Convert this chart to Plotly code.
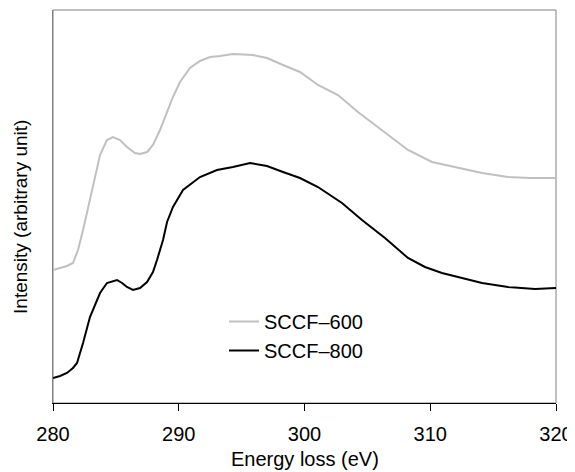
import plotly.graph_objects as go

# SCCF-600 (grey)
e_600 = [280.00, 280.56, 281.11, 281.59, 281.99, 282.39, 282.94, 283.50, 283.74, 284.29,
         284.77, 285.33, 285.88, 286.52, 286.92, 287.48, 287.95, 288.51, 289.07, 289.54,
         290.10, 290.89, 291.69, 292.49, 293.28, 294.31, 295.90, 297.02, 298.29, 299.64,
         301.07, 302.66, 304.25, 306.40, 308.23, 310.14, 312.21, 314.12, 316.18, 317.93, 320.00]
i_600 = [133, 135, 137, 140, 153, 173, 203, 233, 248, 263,
         266, 263, 256, 250, 249, 251, 258, 273, 290, 306,
         321, 335, 342, 346, 347, 349, 348, 345, 338, 331,
         318, 308, 291, 270, 253, 241, 235, 230, 226, 225, 225]

# SCCF-800 (black)
e_800 = [280.00, 280.56, 281.11, 281.59, 281.91, 282.39, 282.94, 283.50, 283.74, 284.29,
         284.77, 285.09, 285.49, 285.88, 286.36, 286.92, 287.48, 287.95, 288.27, 288.75,
         289.07, 289.54, 290.34, 291.69, 293.04, 294.31, 295.67, 297.02, 298.29, 299.64,
         301.07, 302.98, 304.57, 306.40, 308.23, 309.58, 310.93, 312.52, 314.12, 316.18,
         318.33, 320.00]
i_800 = [25, 27, 30, 35, 40, 60, 86, 103, 110, 120,
         122, 123, 120, 116, 113, 115, 121, 131, 143, 163,
         181, 196, 213, 226, 233, 236, 240, 237, 231, 225,
         216, 200, 183, 165, 145, 136, 130, 125, 120, 116,
         114, 115]

x_ticks = [280, 290, 300, 310, 320]
names = ["SCCF\u2013600", "SCCF\u2013800"]
x_title = "Energy loss (eV)"
y_title = "Intensity (arbitrary unit)"

FONT = "Liberation Sans, Arial, sans-serif"

fig = go.Figure()
fig.add_trace(go.Scatter(x=e_600, y=i_600, mode="lines", name=names[0],
                         legendgroup="a", line=dict(color="#c0c0c0", width=2)))
fig.add_trace(go.Scatter(x=e_800, y=i_800, mode="lines", name=names[1],
                         legendgroup="b", line=dict(color="#000000", width=2)))

# grey frame (top, right, left)
fig.add_shape(type="rect", xref="paper", yref="paper", x0=0, x1=1, y0=0, y1=1,
              line=dict(color="#808080", width=1), layer="below")

# axis titles
fig.add_annotation(text=x_title, xref="paper", yref="paper", x=0.501, y=-0.1435,
                   xanchor="center", yanchor="middle", showarrow=False,
                   font=dict(family=FONT, size=20, color="black"))
fig.add_annotation(text=y_title, xref="paper", yref="paper", x=-0.066, y=0.473,
                   xanchor="center", yanchor="middle", showarrow=False, textangle=-90,
                   font=dict(family=FONT, size=19, color="black"))

# the page body has an 8px margin, so the figure is sized to fill the rest of the window
fig.update_layout(
    width=567, height=464,
    margin=dict(l=45, r=19, t=2, b=69),
    paper_bgcolor="white", plot_bgcolor="white",
    font=dict(family=FONT, size=20, color="black"),
    showlegend=True,
    legend=dict(x=0.34, y=0.257, xanchor="left", yanchor="top",
                bgcolor="rgba(0,0,0,0)", traceorder="grouped", tracegroupgap=0,
                font=dict(family=FONT, size=20, color="black")),
    xaxis=dict(range=[280, 320], tickvals=x_ticks, ticks="outside", ticklen=7,
               tickcolor="black", showline=True, linecolor="black", linewidth=1,
               showgrid=False, zeroline=False, ticklabelstandoff=6,
               tickfont=dict(family=FONT, size=20)),
    yaxis=dict(range=[0, 393], showticklabels=False, ticks="", showgrid=False,
               zeroline=False, showline=True, linecolor="#808080", linewidth=1),
)

fig.write_html("out.html")
